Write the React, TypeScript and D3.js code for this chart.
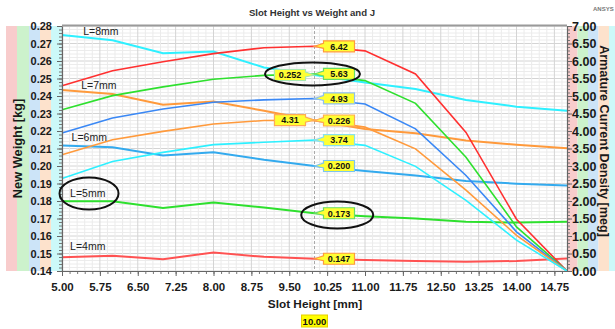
import React, { useEffect, useRef } from 'react';
import * as d3 from 'd3';

// slot height samples [mm]
const slotHeight = [5, 6, 7, 8, 9, 10, 11, 12, 13, 14, 15];
const lengthLabels = ['L=4mm', 'L=5mm', 'L=6mm', 'L=7mm', 'L=8mm'];

// New Weight [kg] (left axis)
const weightL4 = [0.1478, 0.1487, 0.1467, 0.1506, 0.1481, 0.147, 0.1463, 0.1457, 0.1453, 0.1457, 0.1472];
const weightL5 = [0.1798, 0.1798, 0.176, 0.1791, 0.1763, 0.173, 0.1713, 0.17, 0.1681, 0.1677, 0.1681];
const weightL6 = [0.2117, 0.2107, 0.206, 0.2079, 0.2036, 0.2, 0.1971, 0.1946, 0.1914, 0.1899, 0.1889];
const weightL7 = [0.2434, 0.2411, 0.235, 0.2368, 0.2316, 0.226, 0.2212, 0.2187, 0.2146, 0.2121, 0.2102];
const weightL8 = [0.2749, 0.2719, 0.2645, 0.2654, 0.2563, 0.252, 0.2477, 0.244, 0.2377, 0.2339, 0.2316];

// Armature Current Density [meg] (right axis)
const densityL4 = [5.29, 5.72, 5.98, 6.21, 6.38, 6.42, 6.29, 5.63, 3.96, 1.48, 0];
const densityL5 = [4.61, 5.01, 5.26, 5.48, 5.59, 5.63, 5.44, 4.79, 3.25, 1.26, 0];
const densityL6 = [3.94, 4.37, 4.63, 4.82, 4.89, 4.93, 4.77, 4.06, 2.73, 1.12, 0];
const densityL7 = [3.32, 3.75, 3.99, 4.2, 4.3, 4.31, 4.11, 3.49, 2.31, 1.02, 0];
const densityL8 = [2.64, 3.13, 3.39, 3.61, 3.68, 3.74, 3.59, 2.99, 2.02, 0.88, 0];

const xTicks = [5, 5.75, 6.5, 7.25, 8, 8.75, 9.5, 10.25, 11, 11.75, 12.5, 13.25, 14, 14.75];
const weightTicks = [0.14, 0.15, 0.16, 0.17, 0.18, 0.19, 0.2, 0.21, 0.22, 0.23, 0.24, 0.25, 0.26, 0.27, 0.28];
const densityTicks = [0, 0.5, 1, 1.5, 2, 2.5, 3, 3.5, 4, 4.5, 5, 5.5, 6, 6.5, 7];
const markerX = 10;

const W = 615;
const H = 329;
const FONT = 'Liberation Sans, Arial, Helvetica, sans-serif';

const x = d3.scaleLinear().domain([5, 15]).range([62, 567]);
const yW = d3.scaleLinear().domain([0.14, 0.28]).range([271, 26]);
const yJ = d3.scaleLinear().domain([0, 7]).range([271, 26]);

const colors = {
  red: '#ff3030',
  redW: '#ff5252',
  green: '#2ee02e',
  blue: '#3a88f5',
  blueW: '#33aaee',
  orange: '#ff9a3c',
  cyan: '#2ef0ff',
};

const weightSeries = [
  { name: lengthLabels[0], values: weightL4, color: colors.redW, flag: 'right', border: '#ff9a3c' },
  { name: lengthLabels[1], values: weightL5, color: colors.green, flag: 'right', border: '#66dd66' },
  { name: lengthLabels[2], values: weightL6, color: colors.blueW, flag: 'right', border: '#7cc4f0' },
  { name: lengthLabels[3], values: weightL7, color: colors.orange, flag: 'right', border: '#ffaa55' },
  { name: lengthLabels[4], values: weightL8, color: colors.cyan, flag: 'left', border: '#a8e8b0' },
];

const densitySeries = [
  { name: lengthLabels[0], values: densityL4, color: colors.red, flag: 'right', border: '#ff9a3c' },
  { name: lengthLabels[1], values: densityL5, color: colors.green, flag: 'right', border: '#66dd66' },
  { name: lengthLabels[2], values: densityL6, color: colors.blue, flag: 'right', border: '#8ec0ee' },
  { name: lengthLabels[3], values: densityL7, color: colors.orange, flag: 'left', border: '#ffaa55' },
  { name: lengthLabels[4], values: densityL8, color: colors.cyan, flag: 'right', border: '#88e0ee' },
];

// where the L= labels sit (text baseline), in data units
const labelSpots = [
  { text: lengthLabels[4], sx: 5.42, w: 0.2749 },
  { text: lengthLabels[3], sx: 5.38, w: 0.2438 },
  { text: lengthLabels[2], sx: 5.19, w: 0.2145 },
  { text: lengthLabels[1], sx: 5.16, w: 0.1825 },
  { text: lengthLabels[0], sx: 5.16, w: 0.152 },
];

// black ellipses drawn on the chart, in data units
const circles = [
  { sx: 9.96, w: 0.2526, rx: 47.5, ry: 11.5 },
  { sx: 10.45, w: 0.172, rx: 36, ry: 13.5 },
  { sx: 5.535, w: 0.1843, rx: 29.5, ry: 16 },
];

const leftBands = ['#f8cccc', '#ccf2cc', '#cce4f8', '#fde2cc', '#ccf9f9'];
const rightBands = ['#f8cccc', '#ccf2cc', '#cce4f8', '#fde2cc', '#ccf9f9'];

const idx = slotHeight.indexOf(markerX);

const Flag = ({ px, py, text, border, side }) => {
  const bw = 31;
  const bh = 11;
  const gap = 9;
  const d =
    side === 'right'
      ? `M${px},${py} L${px + gap},${py - 3} L${px + gap},${py - bh / 2} L${px + gap + bw},${py - bh / 2} L${px + gap + bw},${py + bh / 2} L${px + gap},${py + bh / 2} L${px + gap},${py + 2} Z`
      : `M${px},${py} L${px - gap},${py - 3} L${px - gap},${py - bh / 2} L${px - gap - bw},${py - bh / 2} L${px - gap - bw},${py + bh / 2} L${px - gap},${py + bh / 2} L${px - gap},${py + 2} Z`;
  const tx = side === 'right' ? px + gap + bw / 2 : px - gap - bw / 2;
  return (
    <g>
      <path d={d} fill="#ffff33" stroke={border} strokeWidth={1.2} />
      <text x={tx} y={py + 3.3} textAnchor="middle" fontFamily={FONT} fontSize={9} fontWeight="bold" fill="#111">
        {text}
      </text>
    </g>
  );
};

const App = () => {
  const axesRef = useRef(null);

  useEffect(() => {
    const g = d3.select(axesRef.current);
    g.selectAll('*').remove();

    const minorX = d3.range(0, 67).map(i => 5 + i * 0.15);
    const minorW = d3.range(0, 71).map(i => 0.14 + i * 0.002);

    const style = (sel, size) => {
      sel.select('.domain').attr('stroke', '#666').attr('stroke-width', 1.2);
      sel.selectAll('.tick line').attr('stroke', '#666');
      sel
        .selectAll('text')
        .attr('font-family', FONT)
        .attr('font-size', size)
        .attr('font-weight', 'bold')
        .attr('fill', '#1a1a1a');
    };

    // minor ticks
    g.append('g')
      .attr('transform', 'translate(0,271)')
      .call(d3.axisBottom(x).tickValues(minorX).tickSize(3).tickFormat(() => ''))
      .call(s => s.select('.domain').remove())
      .call(s => s.selectAll('line').attr('stroke', '#777'));
    g.append('g')
      .attr('transform', 'translate(62,0)')
      .call(d3.axisLeft(yW).tickValues(minorW).tickSize(3).tickFormat(() => ''))
      .call(s => s.select('.domain').remove())
      .call(s => s.selectAll('line').attr('stroke', '#777'));
    g.append('g')
      .attr('transform', 'translate(567,0)')
      .call(d3.axisRight(yW).tickValues(minorW).tickSize(3).tickFormat(() => ''))
      .call(s => s.select('.domain').remove())
      .call(s => s.selectAll('line').attr('stroke', '#777'));

    // main axes
    g.append('g')
      .attr('transform', 'translate(0,271)')
      .call(d3.axisBottom(x).tickValues(xTicks).tickSize(5).tickSizeOuter(0).tickPadding(6.5).tickFormat(d3.format('.2f')))
      .call(s => style(s, 11.5));
    g.append('g')
      .attr('transform', 'translate(62,0)')
      .call(d3.axisLeft(yW).tickValues(weightTicks).tickSize(5).tickSizeOuter(0).tickPadding(5).tickFormat(d3.format('.2f')))
      .call(s => style(s, 11));
    g.append('g')
      .attr('transform', 'translate(567,0)')
      .call(d3.axisRight(yJ).tickValues(densityTicks).tickSize(5).tickSizeOuter(0).tickPadding(0).tickFormat(d3.format('.2f')))
      .call(s => style(s, 12.5));
  }, []);

  const lineW = d3
    .line<number>()
    .x((d, i) => x(slotHeight[i]))
    .y(d => yW(d));
  const lineJ = d3
    .line<number>()
    .x((d, i) => x(slotHeight[i]))
    .y(d => yJ(d));

  const vMinor = d3.range(0, 67).map(i => 5 + i * 0.15);
  const hMinor = d3.range(0, 71).map(i => 0.14 + i * 0.002);

  const [x0, x1] = x.range();
  const [yb, yt] = yW.range();
  const bandW = [11, 12, 11, 11, 11];

  let lx = 6;
  let rx = 567;

  return (
    <svg width={W} height={H} style={{ position: 'fixed', left: 0, top: 0, background: '#fff' }}>
      {/* colour bands behind the axes */}
      {leftBands.map((c, i) => {
        const r = <rect key={'l' + i} x={lx} y={yt} width={bandW[i]} height={yb - yt} fill={c} />;
        lx += bandW[i];
        return r;
      })}
      {rightBands.map((c, i) => {
        const r = <rect key={'r' + i} x={rx} y={yt} width={i === 4 ? 12 : 10.5} height={yb - yt} fill={c} />;
        rx += 10.5;
        return r;
      })}

      {/* grid */}
      <g>
        {hMinor.map((v, i) => (
          <line key={'h' + i} x1={x0} x2={x1} y1={yW(v)} y2={yW(v)} stroke={i % 5 === 0 ? '#d4d4d4' : '#ececec'} strokeWidth={1} />
        ))}
        {vMinor.map((v, i) => (
          <line key={'v' + i} x1={x(v)} x2={x(v)} y1={yt} y2={yb} stroke={i % 5 === 0 ? '#d4d4d4' : '#ebebeb'} strokeWidth={1} />
        ))}
      </g>
      <line x1={x0} x2={x1} y1={yt - 0.5} y2={yt - 0.5} stroke="#9a9a9a" strokeWidth={2} />
      <line x1={x(markerX)} x2={x(markerX)} y1={yt} y2={yb} stroke="#aaa" strokeWidth={1} strokeDasharray="3,2" />

      {/* curves */}
      {weightSeries.map(s => (
        <path key={'w' + s.name} d={lineW(s.values)} fill="none" stroke={s.color} strokeWidth={2} />
      ))}
      {densitySeries.map(s => (
        <path key={'j' + s.name} d={lineJ(s.values)} fill="none" stroke={s.color} strokeWidth={1.6} />
      ))}

      <g ref={axesRef} />

      {/* L= labels */}
      {labelSpots.map(l => (
        <text key={l.text} x={x(l.sx)} y={yW(l.w)} fontFamily={FONT} fontSize={10.5} fill="#222">
          {l.text}
        </text>
      ))}

      {/* value flags at the marker */}
      {weightSeries.map(s => (
        <Flag
          key={'fw' + s.name}
          px={x(markerX)}
          py={yW(s.values[idx])}
          text={d3.format('.3f')(s.values[idx])}
          border={s.border}
          side={s.flag}
        />
      ))}
      {densitySeries.map(s => (
        <Flag
          key={'fj' + s.name}
          px={x(markerX)}
          py={yJ(s.values[idx])}
          text={d3.format('.2f')(s.values[idx])}
          border={s.border}
          side={s.flag}
        />
      ))}

      {/* hand drawn ellipses */}
      {circles.map((c, i) => (
        <ellipse key={'c' + i} cx={x(c.sx)} cy={yW(c.w)} rx={c.rx} ry={c.ry} fill="none" stroke="#111" strokeWidth={2} />
      ))}

      {/* titles */}
      <text x={312} y={16} textAnchor="middle" fontFamily={FONT} fontSize={9.6} fontWeight="bold" fill="#333">
        Slot Height vs Weight and J
      </text>
      <text x={593} y={11} fontFamily={FONT} fontSize={6} fontWeight="bold" fill="#777">
        ANSYS
      </text>
      <text x={315} y={308} textAnchor="middle" fontFamily={FONT} fontSize={11.8} fontWeight="bold" fill="#1a1a1a">
        Slot Height [mm]
      </text>
      <text
        transform={`translate(17,${(yt + yb) / 2}) rotate(-90)`}
        textAnchor="middle"
        dominantBaseline="central"
        fontFamily={FONT}
        fontSize={12.8}
        fontWeight="bold"
        fill="#1a1a1a"
      >
        New Weight [kg]
      </text>
      <text
        transform={`translate(603.5,141) rotate(90)`}
        textAnchor="middle"
        dominantBaseline="central"
        fontFamily={FONT}
        fontSize={12.6}
        fontWeight="bold"
        fill="#1a1a1a"
      >
        Armature Current Density [meg]
      </text>

      {/* marker value under the x axis */}
      <rect x={x(markerX) - 13} y={315} width={26} height={12} fill="#ffff00" stroke="#e6cf00" strokeWidth={1} />
      <text x={x(markerX)} y={324.5} textAnchor="middle" fontFamily={FONT} fontSize={9.5} fontWeight="bold" fill="#111">
        {d3.format('.2f')(markerX)}
      </text>
    </svg>
  );
};

export default App;
